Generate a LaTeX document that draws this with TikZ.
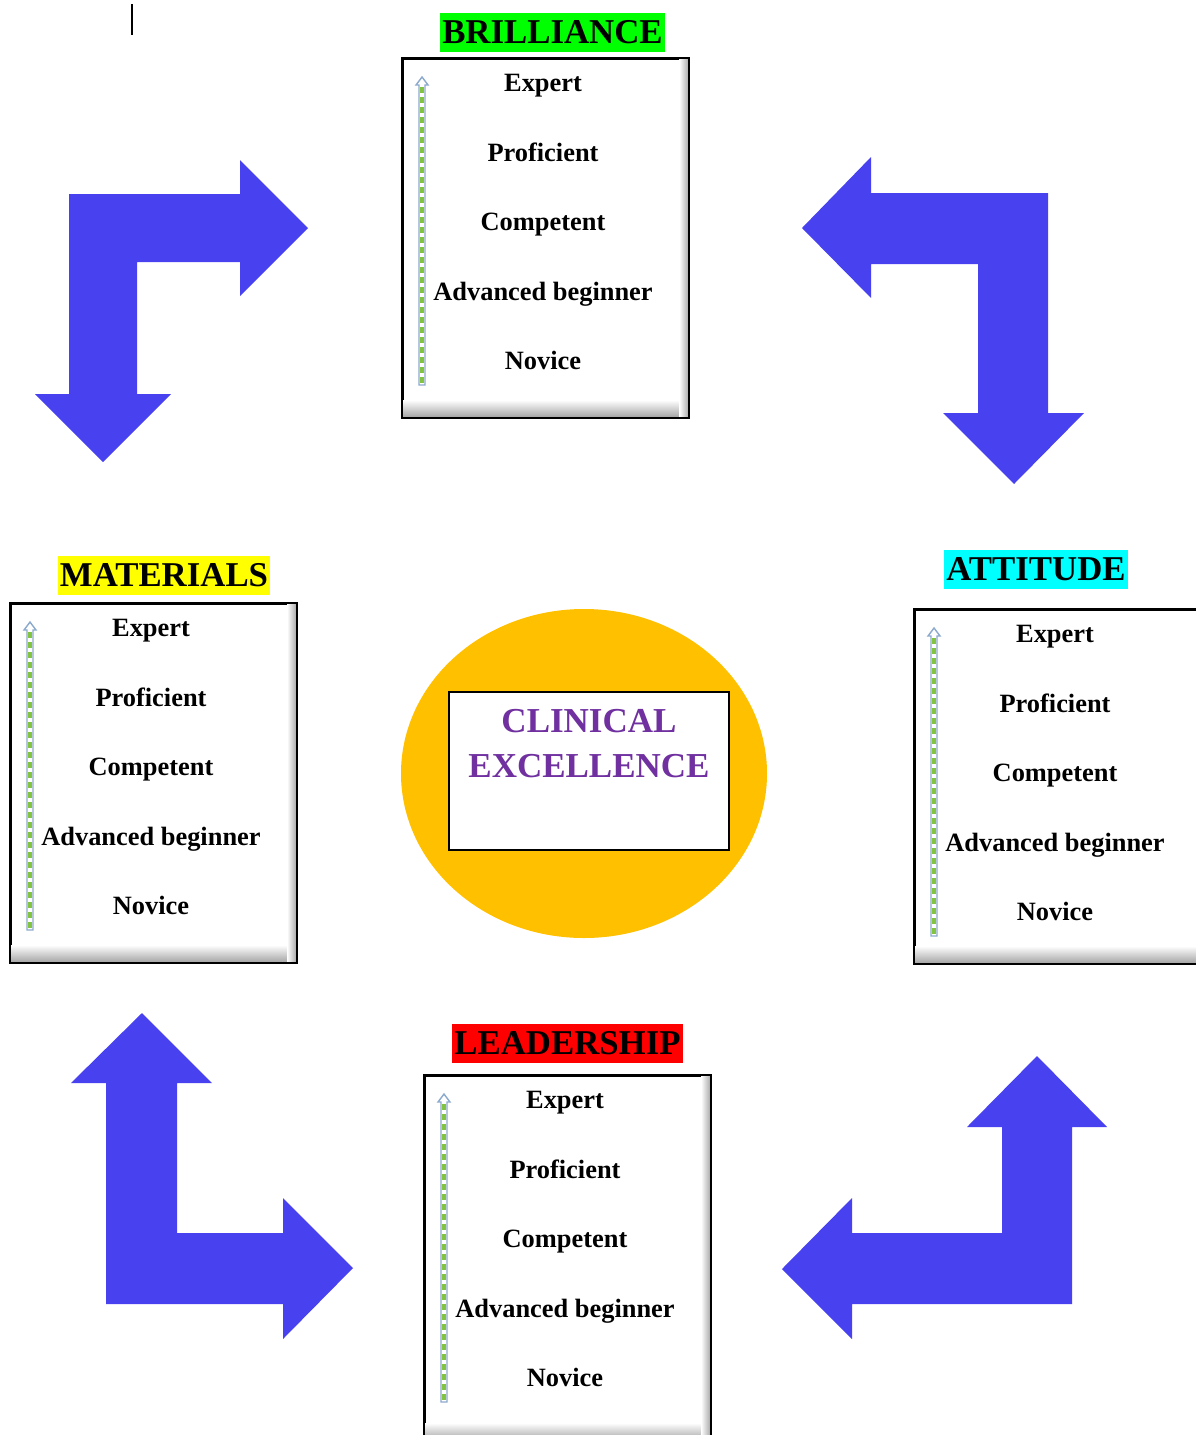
\documentclass[tikz,border=0pt]{standalone}
\usepackage{fontspec}
\setmainfont{Liberation Serif}
\usetikzlibrary{positioning,calc,shapes.geometric}

\definecolor{blockblue}{RGB}{72,65,240}
\definecolor{ovalgold}{RGB}{255,192,0}
\definecolor{corepurple}{RGB}{112,48,160}
\definecolor{scaleblue}{RGB}{140,170,205}
\definecolor{scalegreen}{RGB}{130,195,65}
\definecolor{headgreen}{RGB}{0,255,0}
\definecolor{headyellow}{RGB}{255,255,0}
\definecolor{headcyan}{RGB}{0,255,255}
\definecolor{headred}{RGB}{255,0,0}

\tikzset{
	levelbox/.style={draw=black, line width=1pt, fill=white, anchor=north west,
		minimum width=142.5pt, minimum height=179pt, inner sep=0pt},
	heading/.style={font=\bfseries\fontsize{17.4}{20}\selectfont,
		text height=11.5pt, text depth=0pt, inner xsep=1pt, inner ysep=4pt},
	level/.style={font=\bfseries\fontsize{13.2}{15}\selectfont,
		text height=8.7pt, text depth=0pt, inner sep=0pt},
	bentarrow/.style={fill=blockblue, draw=none},
	scaleoutline/.style={draw=scaleblue, fill=white, line width=0.7pt},
	scaledash/.style={draw=scalegreen, line width=1.6pt, dash pattern=on 3pt off 2pt},
}

\begin{document}
\begin{tikzpicture}[x=0.5pt,y=-0.5pt]
	\path[use as bounding box, fill=white] (0,0) rectangle (1195,1435);

	\draw[line width=1pt] (132,4) -- (132,35);

	% four level boxes
	\node[levelbox] (brillbox) at (402,58) {};
	\node[levelbox] (matbox) at (10,603) {};
	\node[levelbox, minimum width=146pt, minimum height=176.5pt] (attbox) at (914,609) {};
	\node[levelbox, minimum height=182pt] (leadbox) at (424,1075) {};

	\foreach \b in {brillbox, matbox, attbox, leadbox} {
		\shade[top color=white, bottom color=gray!70]
			($(\b.south west)+(1,-18)$) rectangle ($(\b.south east)+(-1,-1)$);
		\shade[left color=white, right color=gray!65]
			($(\b.north east)+(-10,1)$) rectangle ($(\b.south east)+(-1,-1)$);
		\draw[line width=1pt] (\b.north west) rectangle (\b.south east);
		\draw[scaleoutline] ($(\b.north west)+(20,19)$) -- ++(6,8) -- ++(-3,0)
			-- ++(0,300) -- ++(-6,0) -- ++(0,-300) -- ++(-3,0) -- cycle;
		\draw[scaledash] ($(\b.north west)+(20,29)$) -- ++(0,296);
		\foreach \lvl [count=\i from 0] in {Expert, Proficient, Competent, Advanced beginner, Novice}
			\node[level] (\b-\i) at ($(\b.north west)+(141,25+69.5*\i)$) {\lvl};
	}

	% headings
	\node[heading, fill=headgreen, above=3pt of brillbox.north, xshift=3.5pt] (brilliance) {BRILLIANCE};
	\node[heading, fill=headyellow, above=4pt of matbox.north, xshift=5.25pt] (materials) {MATERIALS};
	\node[heading, fill=headcyan, above=10pt of attbox.north, xshift=-12.5pt] (attitude) {ATTITUDE};
	\node[heading, fill=headred, above=6pt of leadbox.north] (leadership) {LEADERSHIP};

	% centre
	\node[ellipse, fill=ovalgold, minimum width=183pt, minimum height=164.5pt, inner sep=0pt]
		(oval) at (584,773.5) {};
	\node[draw=black, line width=1pt, fill=white, minimum width=140pt, minimum height=79pt,
		inner sep=0pt] (core) at (589,771) {};
	\node[font=\bfseries\fontsize{17.5}{22.5}\selectfont, text=corepurple, align=center,
		anchor=north, inner sep=0pt] (coretext) at ($(core.north)+(0,18)$) {CLINICAL\\EXCELLENCE};

	% bent arrows
	\fill[bentarrow] (69,194) -- (240,194) -- (240,160) -- (308,228) -- (240,296) -- (240,262)
		-- (137,262) -- (137,394) -- (171,394) -- (103,462) -- (35,394) -- (69,394) -- cycle;
	\fill[bentarrow] (1048,193) -- (1048,413) -- (1084,413) -- (1014,484) -- (943,413) -- (978,413)
		-- (978,264) -- (871,264) -- (871,298) -- (802,228) -- (871,157) -- (871,193) -- cycle;
	\fill[bentarrow] (106,1304) -- (106,1083) -- (71,1083) -- (142,1013) -- (212,1083) -- (177,1083)
		-- (177,1233) -- (283,1233) -- (283,1198) -- (353,1268) -- (283,1339) -- (283,1304) -- cycle;
	\fill[bentarrow] (1072,1304) -- (1072,1127) -- (1107,1127) -- (1037,1056) -- (967,1127) -- (1002,1127)
		-- (1002,1233) -- (852,1233) -- (852,1198) -- (782,1269) -- (852,1339) -- (852,1304) -- cycle;
\end{tikzpicture}
\end{document}
